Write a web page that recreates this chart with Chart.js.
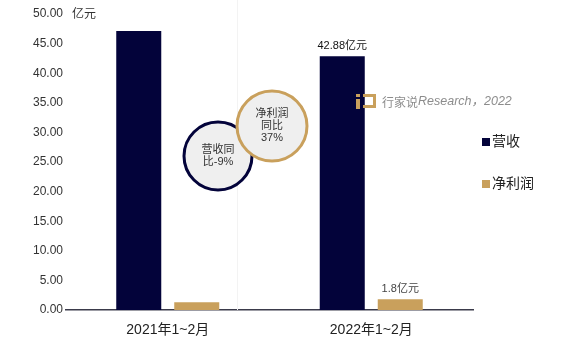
<!DOCTYPE html>
<html>
<head>
<meta charset="utf-8">
<script src="https://cdn.jsdelivr.net/npm/chart.js@4"></script>
<style>
  html, body { margin: 0; padding: 0; background: #fff; }
  #wrap { width: 562px; height: 359px; position: relative; }
</style>
</head>
<body>
<div id="wrap"><canvas id="chart"></canvas></div>
<script>
var categories = ['2021年1~2月', '2022年1~2月'];
var revenue = [47.12, 42.88];
var netProfit = [1.31, 1.8];
var seriesNames = ['营收', '净利润'];
var valueLabels = [[null, '42.88亿元'], [null, '1.8亿元']];
var yTicks = [0, 5, 10, 15, 20, 25, 30, 35, 40, 45, 50];

var NAVY = '#03033a';
var GOLD = '#c9a05c';
var FONT = '"Liberation Sans", Arial, "Noto Sans CJK SC", sans-serif';

var extras = {
    id: 'extras',
    beforeDatasetsDraw: function (chart) {
        var ctx = chart.ctx;
        // faint background line
        ctx.save();
        ctx.strokeStyle = '#f3f3f3';
        ctx.lineWidth = 1;
        ctx.beginPath();
        ctx.moveTo(237.5, 0);
        ctx.lineTo(237.5, chart.chartArea.bottom);
        ctx.stroke();
        ctx.restore();
    },
    afterDraw: function (chart) {
        var ctx = chart.ctx;
        ctx.save();

        // unit label
        ctx.fillStyle = '#333';
        ctx.font = '12px ' + FONT;
        ctx.textBaseline = 'middle';
        ctx.textAlign = 'left';
        ctx.fillText('亿元', 72, 15);

        // value labels above bars
        chart.data.datasets.forEach(function (ds, di) {
            var meta = chart.getDatasetMeta(di);
            meta.data.forEach(function (bar, i) {
                var txt = valueLabels[di][i];
                if (!txt) return;
                ctx.fillStyle = di === 0 ? '#111' : '#444';
                ctx.font = '11px ' + FONT;
                ctx.textAlign = 'center';
                ctx.textBaseline = 'bottom';
                ctx.fillText(txt, bar.x, bar.y - 5);
            });
        });

        // circles
        function bubble(cx, cy, r, color, lines) {
            ctx.beginPath();
            ctx.arc(cx, cy, r, 0, Math.PI * 2);
            ctx.fillStyle = '#efefef';
            ctx.fill();
            ctx.lineWidth = 3;
            ctx.strokeStyle = color;
            ctx.stroke();
            ctx.fillStyle = '#333';
            ctx.font = '11px ' + FONT;
            ctx.textAlign = 'center';
            ctx.textBaseline = 'middle';
            var start = cy - (lines.length - 1) * 6;
            lines.forEach(function (l, k) {
                ctx.fillText(l, cx, start + k * 12);
            });
        }
        bubble(218, 156, 34, NAVY, ['营收同', '比-9%']);
        bubble(272, 126, 35, GOLD, ['净利润', '同比', '37%']);

        // watermark
        ctx.fillStyle = GOLD;
        ctx.fillRect(356, 94, 4, 3);
        ctx.fillRect(356, 99, 4, 10);
        ctx.fillRect(363, 94, 13, 3);
        ctx.fillRect(373, 94, 3, 14);
        ctx.fillRect(363, 105, 13, 3);
        ctx.fillStyle = '#8c8c8c';
        ctx.font = '12px "Noto Sans CJK SC", sans-serif';
        ctx.textAlign = 'left';
        ctx.textBaseline = 'middle';
        ctx.fillText('行家说', 382, 102);
        ctx.font = 'italic 12.5px ' + FONT;
        ctx.fillText('Research，2022', 418, 102);

        // legend
        ctx.font = '14px ' + FONT;
        ctx.textBaseline = 'middle';
        var legendY = [142, 184];
        chart.data.datasets.forEach(function (ds, di) {
            ctx.fillStyle = ds.backgroundColor;
            ctx.fillRect(482, legendY[di] - 4, 8, 8);
            ctx.fillStyle = '#222';
            ctx.fillText(ds.label, 492, legendY[di]);
        });

        ctx.restore();
    }
};

new Chart(document.getElementById('chart'), {
    type: 'bar',
    data: {
        labels: categories,
        datasets: [
            { label: seriesNames[0], data: revenue, backgroundColor: NAVY },
            { label: seriesNames[1], data: netProfit, backgroundColor: GOLD }
        ]
    },
    options: {
        responsive: true,
        maintainAspectRatio: false,
        animation: false,
        categoryPercentage: 0.57,
        barPercentage: 0.776,
        layout: { padding: { top: 14, right: 89, bottom: 0, left: 0 } },
        plugins: { legend: { display: false }, tooltip: { enabled: false } },
        scales: {
            x: {
                grid: { display: false, drawTicks: false },
                border: { display: true, color: '#3a3a4a', width: 1.5 },
                ticks: { color: '#222', font: { family: FONT, size: 14 }, padding: 12 },
                afterFit: function (s) { s.height = 49; }
            },
            y: {
                min: 0, max: 50,
                afterBuildTicks: function (s) {
                    s.ticks = yTicks.map(function (v) { return { value: v }; });
                },
                grid: { display: false, drawTicks: false },
                border: { display: false },
                ticks: {
                    color: '#333',
                    font: { family: FONT, size: 12 },
                    padding: 3,
                    callback: function (v) { return v.toFixed(2); }
                },
                afterFit: function (s) { s.width = 66; }
            }
        }
    },
    plugins: [extras]
});
</script>
</body>
</html>
